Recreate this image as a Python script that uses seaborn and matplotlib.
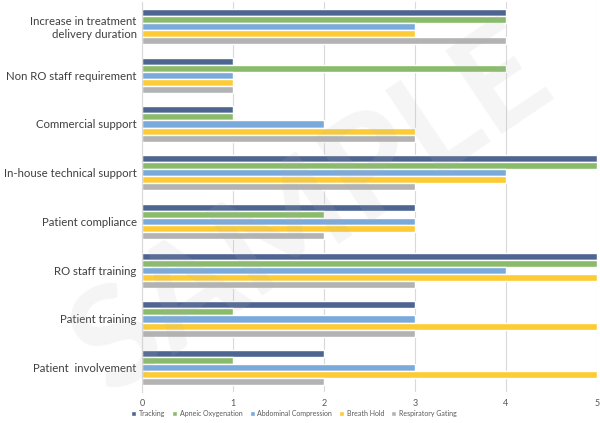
import pandas as pd
import numpy as np
import matplotlib.pyplot as plt
import seaborn as sns

categorias = ['Increase in treatment\ndelivery duration', 'Non RO staff requirement', 'Commercial support',
              'In-house technical support', 'Patient compliance', 'RO staff training',
              'Patient training', 'Patient  involvement']
tracking = [4, 1, 1, 5, 3, 5, 3, 2]
apneic = [4, 4, 1, 5, 2, 5, 1, 1]
abdominal = [3, 1, 2, 4, 3, 4, 3, 3]
breath_hold = [3, 1, 3, 4, 3, 5, 5, 5]
resp_gating = [4, 1, 3, 3, 2, 3, 3, 2]
tecnicas = ['Tracking', 'Apneic Oxygenation', 'Abdominal Compression', 'Breath Hold', 'Respiratory Gating']
cores = ['#4f6591', '#8abb6a', '#7aaadb', '#fdcc34', '#b3b3b3']

dados = pd.DataFrame({'categoria': categorias, 'Tracking': tracking, 'Apneic Oxygenation': apneic,
                      'Abdominal Compression': abdominal, 'Breath Hold': breath_hold,
                      'Respiratory Gating': resp_gating})
dados = dados.melt(id_vars='categoria', var_name='tecnica', value_name='valor')

sns.set_style('white')
plt.rcParams['font.family'] = ['Lato', 'DejaVu Sans']

f = plt.figure(figsize=(6, 4.23), dpi=100)
ax = f.add_axes([0.237, 0.073, 0.758, 0.922])

sns.barplot(data=dados, y='categoria', x='valor', hue='tecnica', hue_order=tecnicas,
            palette=cores, orient='h', width=0.72, saturation=1, ax=ax, legend=True)

ax.set_xlim(0, 5)
ax.set_ylim(7.5, -0.5)
ax.set_xticks(range(0, 6))
ax.tick_params(axis='x', labelsize=6.5, colors='#595959', length=0, pad=5)
ax.tick_params(axis='y', labelsize=8.2, colors='#404040', length=0, pad=4)
for lbl in ax.get_yticklabels():
    lbl.set_horizontalalignment('right')
    lbl.set_multialignment('right')
ax.set_xlabel('')
ax.set_ylabel('')
ax.grid(axis='x', color='#d9d9d9', linewidth=0.8)
ax.set_axisbelow(True)
for s in ['top', 'right', 'bottom']:
    ax.spines[s].set_visible(False)
ax.spines['left'].set_color('#d9d9d9')

h, l = ax.get_legend_handles_labels()
ax.get_legend().remove()
f.legend(h, l, loc='center', bbox_to_anchor=(0.49, 0.022), ncol=5, fontsize=5, frameon=False,
         handlelength=0.7, handleheight=0.7, handletextpad=0.4, columnspacing=1.0,
         labelcolor='#595959')

# marca d'agua
f.text(0.52, 0.5, 'SAMPLE', fontsize=100, rotation=34, ha='center', va='center',
       color='#b0b0b0', alpha=0.12, fontweight='bold')

plt.savefig('out.png', dpi=100)
